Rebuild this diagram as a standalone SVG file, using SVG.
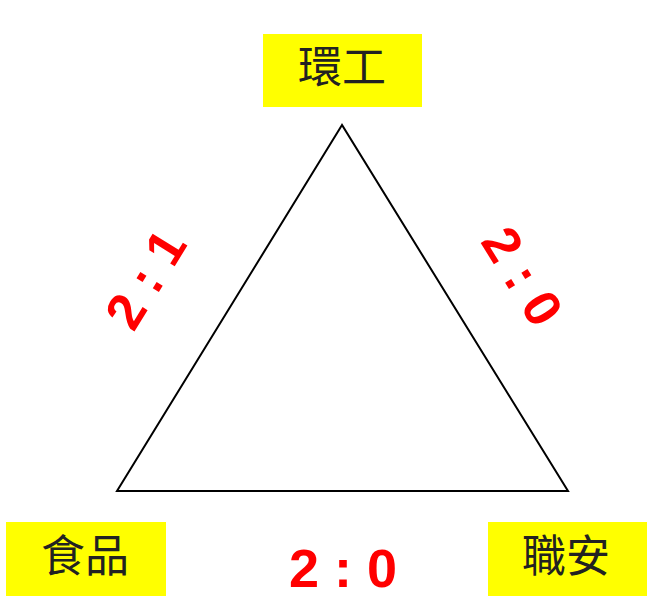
<svg xmlns="http://www.w3.org/2000/svg" width="647" height="596" viewBox="0 0 647 596">
<style>
.box{fill:#ffff00;stroke:none}
.lbl{font-family:"Noto Sans CJK TC","Noto Sans CJK SC",sans-serif;font-size:44px;fill:#222;text-anchor:middle}
.score{font-family:"Liberation Sans",Arial,sans-serif;font-weight:bold;font-size:52px;fill:#ff0000;text-anchor:middle}
</style>
<rect width="647" height="596" fill="#fff"/>
<g id="connectors">
<polygon points="342,125 117,491 568,491" fill="none" stroke="#000" stroke-width="2"/>
</g>
<g id="node-env">
<rect class="box" x="263" y="34" width="159" height="73"/>
<text class="lbl" x="342" y="83">環工</text>
</g>
<g id="node-food">
<rect class="box" x="6" y="522" width="160" height="74"/>
<text class="lbl" x="85" y="572">食品</text>
</g>
<g id="node-safety">
<rect class="box" x="488" y="522" width="159" height="74"/>
<text class="lbl" x="566" y="572">職安</text>
</g>
<g id="scores">
<text class="score" transform="translate(145,279) rotate(-58.4)" x="0" y="18.6">2 : 1</text>
<text class="score" transform="translate(523,276) rotate(58.3)" x="0" y="18.6">2 : 0</text>
<text class="score" x="343" y="587" style="font-size:54px">2 : 0</text>
</g>
</svg>
